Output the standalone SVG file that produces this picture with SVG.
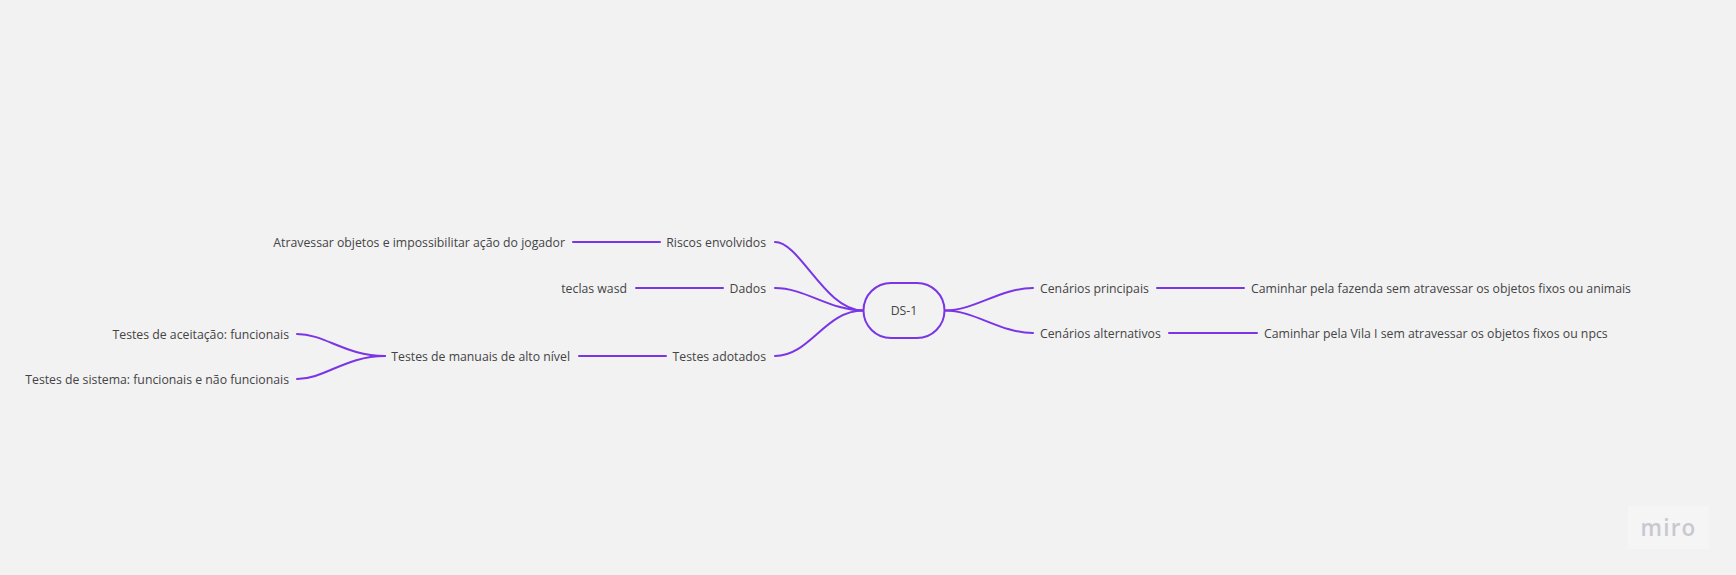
<svg xmlns="http://www.w3.org/2000/svg" width="1736" height="575" viewBox="0 0 1736 575">
<style>
text{font-family:"Open Sans","Noto Sans",sans-serif;font-size:12.27px;fill:#444;dominant-baseline:central}
.e{text-anchor:end}
.c{text-anchor:middle}
#connectors path{fill:none;stroke:#7a35e6;stroke-width:2;stroke-linecap:round}
</style>
<rect width="1736" height="575" fill="#f2f2f3"/>
<g id="connectors">
<path d="M945 310.500C975 310.500 1000 288 1033 288"/>
<path d="M945 310.500C975 310.500 1000 333 1033 333"/>
<path d="M1157 288H1244"/>
<path d="M1169 333H1257"/>
<path d="M863 310.500C825 310.500 800 242 775 242"/>
<path d="M863 310.500C830 310.500 805 288 775 288"/>
<path d="M863 310.500C825 310.500 810 356 775 356"/>
<path d="M573 242H660"/>
<path d="M636 288H723"/>
<path d="M579 356H666"/>
<path d="M385 356C345 356 325 334 297 334"/>
<path d="M385 356C345 356 325 379 297 379"/>
</g>
<g id="n-root"><rect x="863.500" y="283" width="81" height="55" rx="27.500" fill="#f2f2f3" stroke="#7a35e6" stroke-width="2"/><text x="904" y="310.500" class="c">DS-1</text></g>
<g id="n-principais"><text x="1040" y="288">Cenários principais</text></g>
<g id="n-alternativos"><text x="1040" y="333">Cenários alternativos</text></g>
<g id="n-fazenda"><text x="1251" y="288">Caminhar pela fazenda sem atravessar os objetos fixos ou animais</text></g>
<g id="n-vila"><text x="1264" y="333">Caminhar pela Vila I sem atravessar os objetos fixos ou npcs</text></g>
<g id="n-riscos"><text x="766" y="242" class="e">Riscos envolvidos</text></g>
<g id="n-dados"><text x="766" y="288" class="e">Dados</text></g>
<g id="n-adotados"><text x="766" y="356" class="e">Testes adotados</text></g>
<g id="n-atravessar"><text x="565" y="242" class="e">Atravessar objetos e impossibilitar ação do jogador</text></g>
<g id="n-teclas"><text x="627" y="288" class="e">teclas wasd</text></g>
<g id="n-manuais"><text x="570" y="356" class="e">Testes de manuais de alto nível</text></g>
<g id="n-aceitacao"><text x="289" y="334" class="e">Testes de aceitação: funcionais</text></g>
<g id="n-sistema"><text x="289" y="379" class="e">Testes de sistema: funcionais e não funcionais</text></g>
<g id="logo"><rect x="1628" y="506" width="81" height="43" fill="#f5f5f6"/><text x="1668.500" y="527" class="c" style="font-size:22.500px;font-weight:600;fill:#c8c8d1;letter-spacing:1.200px">miro</text></g>
</svg>
